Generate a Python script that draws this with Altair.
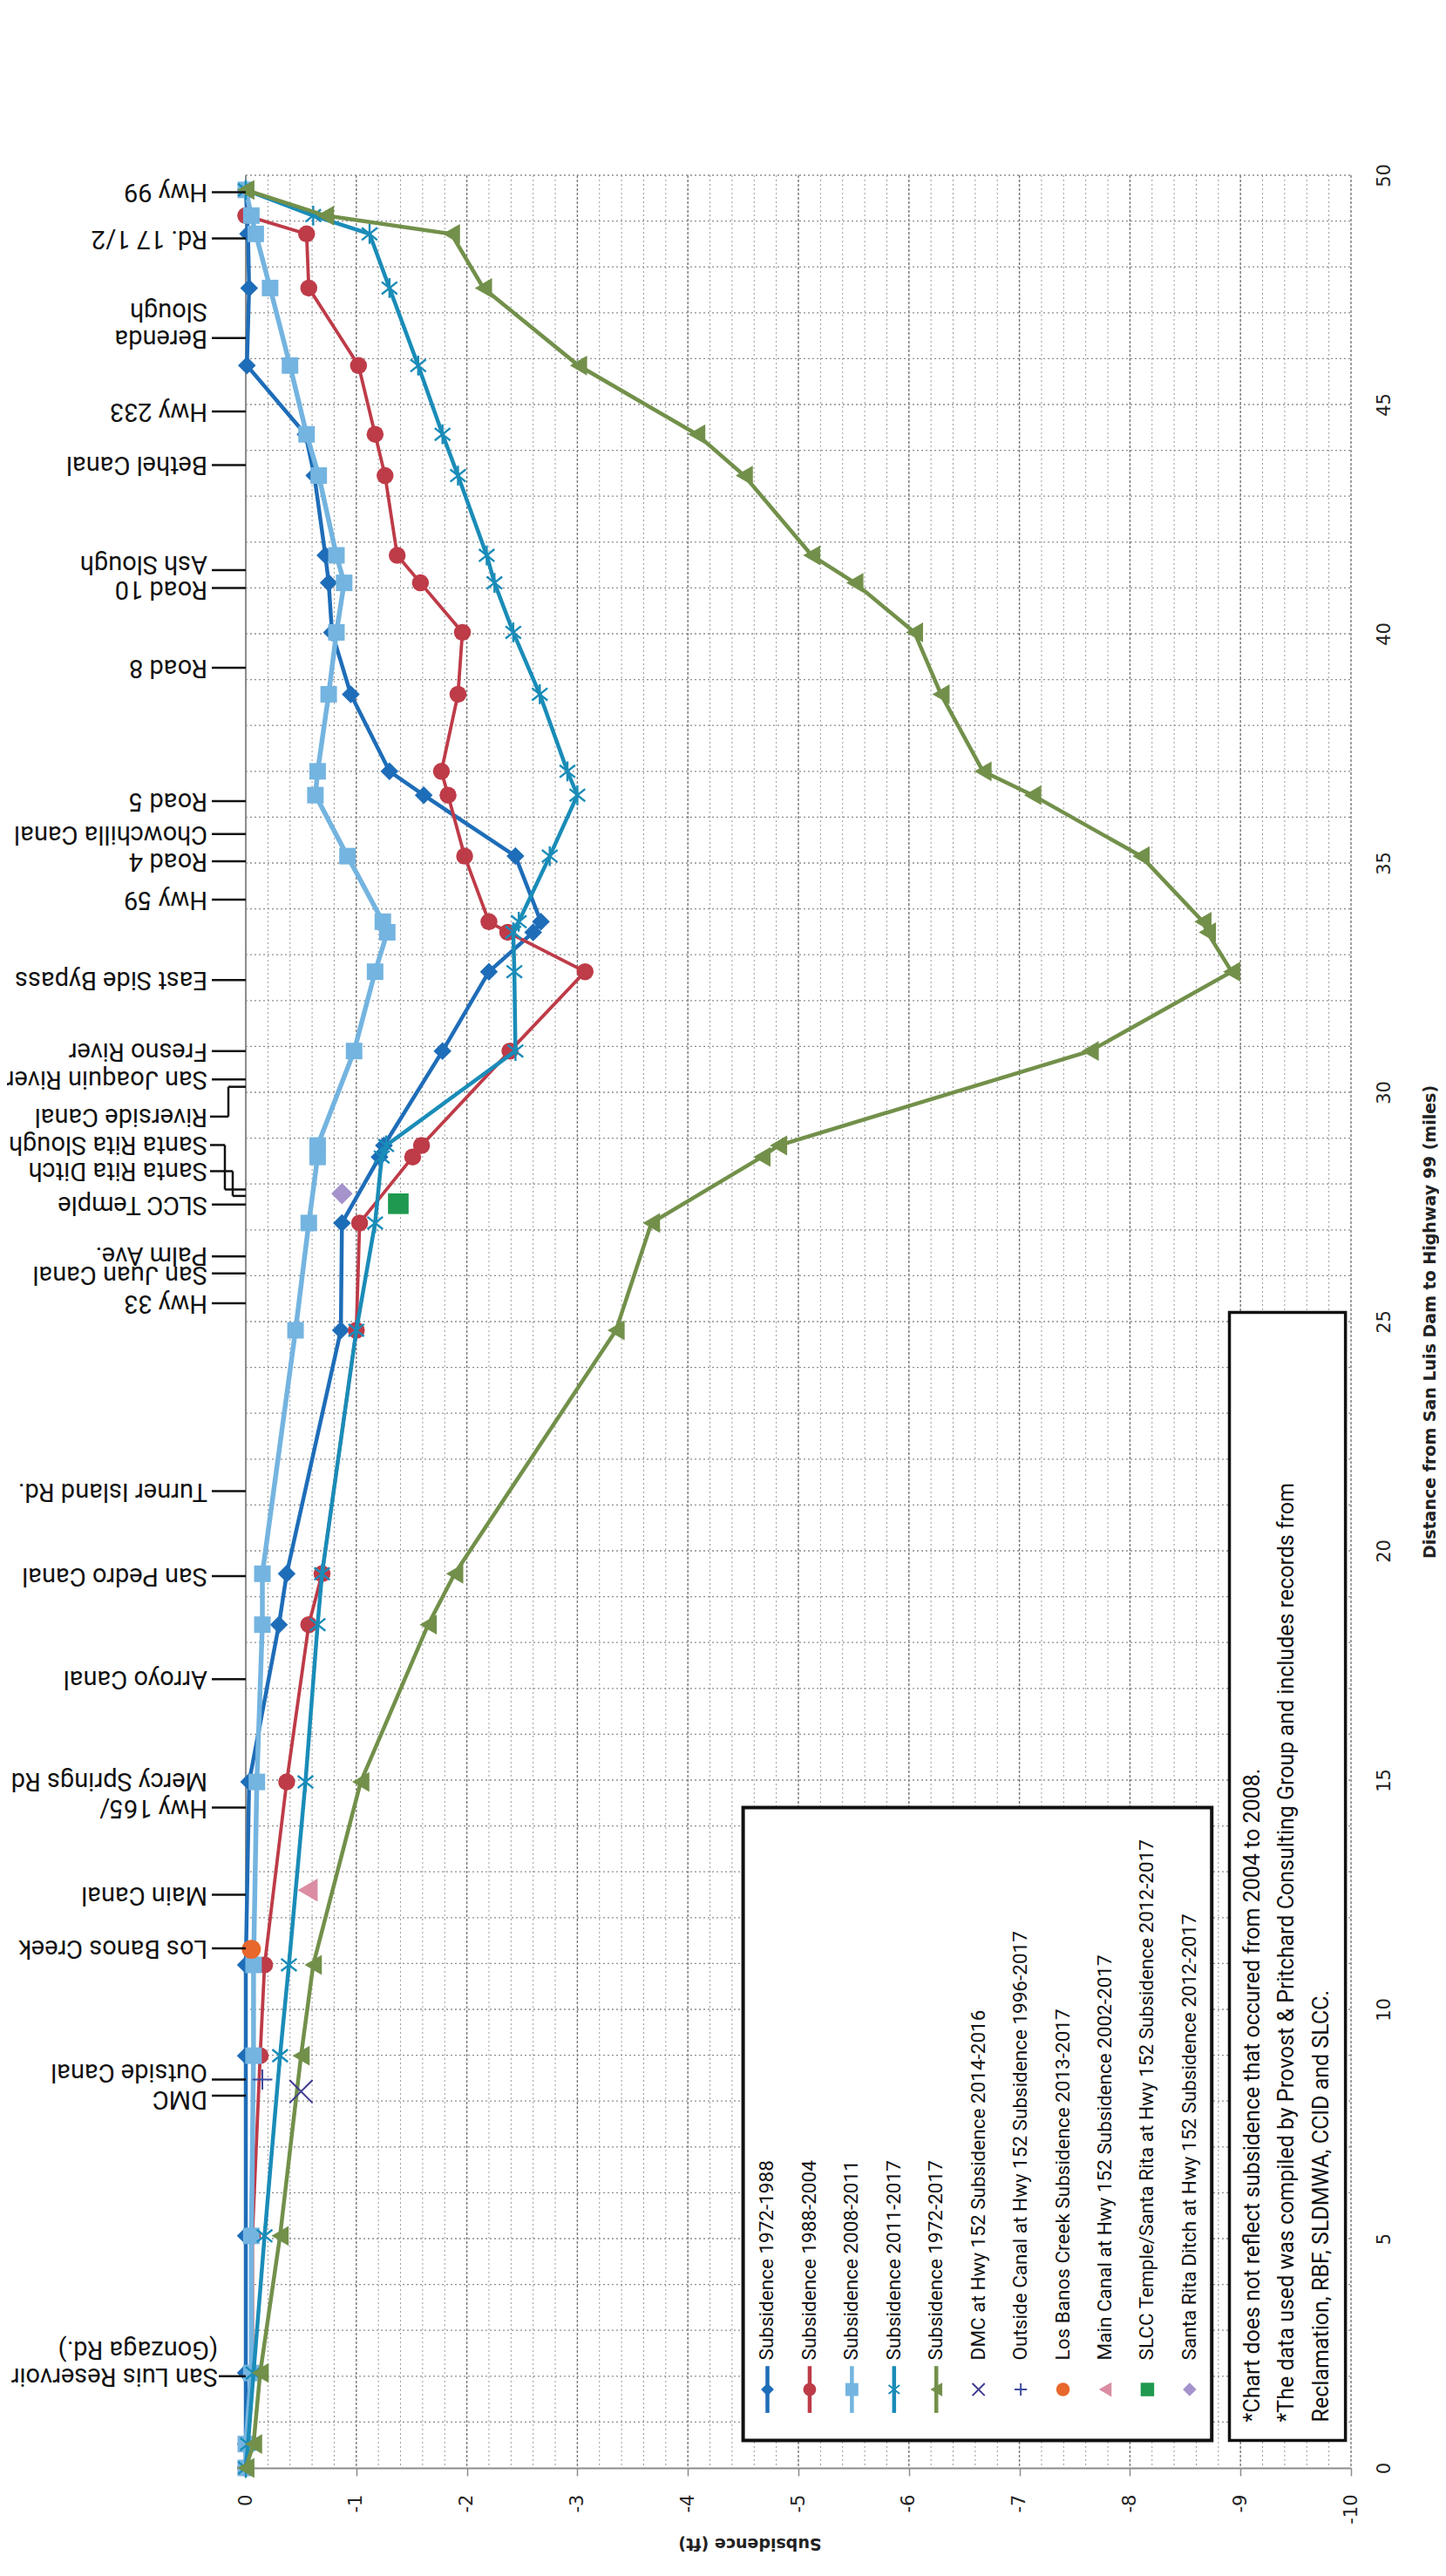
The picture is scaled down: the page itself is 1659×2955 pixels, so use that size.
import altair as alt
import pandas as pd

# ---------------- data ----------------
DIST_ALL = [49.68, 49.12, 48.72, 47.54, 45.85, 44.35, 43.45, 41.71, 41.11, 40.03,
            38.68, 37.0, 36.48, 35.15, 33.72, 33.49, 32.63, 30.9, 28.84, 28.59,
            27.15, 24.81, 19.5, 18.39, 14.96, 10.97, 8.99, 5.06, 2.07, 0.52, 0.0]

DIST_1972_1988 = [49.68, 48.72, 47.54, 45.85, 44.35, 43.45, 41.71, 41.11, 40.03, 38.68,
                  37.0, 36.48, 35.15, 33.72, 33.49, 32.63, 30.9, 28.84, 28.59, 27.15,
                  24.81, 19.5, 18.39, 14.96, 10.97, 8.99, 5.06, 2.07, 0.52, 0.0]
SUBS_1972_1988 = [0.0, -0.02, -0.03, -0.01, -0.54, -0.62, -0.72, -0.75, -0.78, -0.95,
                  -1.30, -1.61, -2.44, -2.67, -2.60, -2.20, -1.78, -1.25, -1.21, -0.87,
                  -0.86, -0.37, -0.30, -0.03, 0.0, 0.0, 0.0, 0.0, 0.0, 0.0]

DIST_1988_2004 = [49.12, 48.72, 47.54, 45.85, 44.35, 43.45, 41.71, 41.11, 40.03, 38.68,
                  37.0, 36.48, 35.15, 33.72, 33.49, 32.63, 30.9, 28.84, 28.59, 27.15,
                  24.81, 19.5, 18.39, 14.96, 10.97, 8.99, 5.06, 2.07, 0.52, 0.0]
SUBS_1988_2004 = [0.0, -0.55, -0.57, -1.02, -1.17, -1.26, -1.37, -1.58, -1.96, -1.92,
                  -1.77, -1.83, -1.98, -2.20, -2.37, -3.07, -2.39, -1.59, -1.51, -1.03,
                  -1.00, -0.69, -0.57, -0.37, -0.17, -0.13, -0.06, -0.06, -0.02, 0.0]

SUBS_2008_2011 = [0.0, -0.05, -0.09, -0.22, -0.40, -0.55, -0.66, -0.82, -0.89, -0.82,
                  -0.75, -0.65, -0.63, -0.92, -1.24, -1.28, -1.17, -0.98, -0.65, -0.65,
                  -0.57, -0.45, -0.15, -0.15, -0.10, -0.07, -0.07, -0.05, -0.05, 0.0, 0.0]

SUBS_2011_2017 = [0.0, -0.61, -1.12, -1.30, -1.56, -1.78, -1.92, -2.18, -2.25, -2.42,
                  -2.66, -2.91, -3.00, -2.75, -2.47, -2.42, -2.43, -2.44, -1.27, -1.23,
                  -1.17, -1.00, -0.69, -0.65, -0.54, -0.39, -0.31, -0.17, -0.07, -0.02, 0.0]

SUBS_1972_2017 = [0.0, -0.72, -1.86, -2.15, -3.01, -4.08, -4.51, -5.12, -5.51, -6.05,
                  -6.29, -6.67, -7.12, -8.10, -8.66, -8.70, -8.92, -7.64, -4.82, -4.67,
                  -3.67, -3.35, -1.89, -1.65, -1.04, -0.61, -0.50, -0.31, -0.13, -0.07, 0.0]

SINGLE_NAMES = ["DMC at Hwy 152 Subsidence 2014-2016",
                "Outside Canal at Hwy 152 Subsidence 1996-2017",
                "Los Banos Creek Subsidence 2013-2017",
                "Main Canal at Hwy 152 Subsidence 2002-2017",
                "SLCC Temple/Santa Rita at Hwy 152 Subsidence 2012-2017",
                "Santa Rita Ditch at Hwy 152 Subsidence 2012-2017"]
SINGLE_DIST = [8.21, 8.47, 11.31, 12.6, 27.57, 27.79]
SINGLE_SUBS = [-0.50, -0.15, -0.05, -0.56, -1.38, -0.87]

STATION_NAMES = ["Hwy 99", "Rd. 17 1/2", "Berenda\nSlough", "Hwy 233", "Bethel Canal",
                 "Ash Slough", "Road 10", "Road 8", "Road 5", "Chowchilla Canal", "Road 4",
                 "Hwy 59", "East Side Bypass", "Fresno River", "San Joaquin River",
                 "Riverside Canal", "Santa Rita Slough", "Santa Rita Ditch", "SLCC Temple",
                 "Palm Ave.", "San Juan Canal", "Hwy 33", "Turner Island Rd.",
                 "San Pedro Canal", "Arroyo Canal", "Hwy 165/\nMercy Springs Rd",
                 "Main Canal", "Los Banos Creek", "Outside Canal", "DMC",
                 "San Luis Reservoir\n(Gonzaga Rd.)"]
STATION_TICK = [49.63, 48.62, 46.45, 44.85, 43.68, 41.39, 41.0, 39.26, 36.35, 35.63, 35.04,
                34.2, 32.45, 30.9, 30.28, 30.12, 27.88, 27.74, 27.55, 26.42, 26.05, 25.4,
                21.3, 19.45, 17.2, 14.4, 12.5, 11.33, 8.47, 8.12, 2.0]
STATION_LABEL = [49.63, 48.62, 46.45, 44.85, 43.68, 41.53, 40.97, 39.26, 36.35, 35.63, 35.04,
                 34.2, 32.45, 30.9, 30.28, 29.47, 28.85, 28.28, 27.55, 26.45, 26.02, 25.4,
                 21.3, 19.45, 17.2, 14.4, 12.5, 11.33, 8.64, 8.04, 2.0]

NOTE_LINES = ["*Chart does not reflect subsidence that occured from 2004 to 2008.",
              "*The data used was compiled by Provost & Pritchard Consulting Group and includes records from",
              "Reclamation, RBF, SLDMWA, CCID and SLCC."]

X_TICKS = list(range(0, -11, -1))
Y_TICKS = list(range(0, 51, 5))

# ---------------- layout / style ----------------
W, H = 1268, 2630
PX = 10.0 / W  # feet per pixel along the subsidence axis
ASTERISK = "M0,-1L0,1M-0.78,-0.62L0.78,0.62M-0.78,0.62L0.78,-0.62"
XSHAPE = "M-1,-1L1,1M-1,1L1,-1"
PLUS = "M0,-1L0,1M-1,0L1,0"

xscale = alt.Scale(domain=[0, -10], nice=False, zero=False)
yscale = alt.Scale(domain=[0, 50], nice=False, zero=False)

XAXIS = alt.Axis(values=X_TICKS, orient="bottom", grid=False, domain=True, domainColor="#8c8c8c",
                 domainWidth=2, ticks=True, tickSize=9, tickColor="#8c8c8c", tickWidth=1.5,
                 labelAngle=270, labelAlign="right", labelBaseline="middle", labelPadding=21,
                 labelFont="DejaVu Sans", labelFontSize=21, labelColor="#222",
                 labelExpr="toString(datum.value)",
                 title="Subsidence (ft)", titleFont="DejaVu Sans", titleFontSize=19,
                 titleFontWeight="bold", titleColor="#222", titleAngle=180, titleX=578, titleY=86,
                 titleAlign="center", titleBaseline="middle")
YAXIS = alt.Axis(values=Y_TICKS, orient="right", grid=False, domain=False, ticks=False,
                 labelAngle=270, labelAlign="center", labelBaseline="middle", labelPadding=38,
                 labelFont="DejaVu Sans", labelFontSize=21, labelColor="#222",
                 title="Distance from San Luis Dam to Highway 99 (miles)", titleFont="DejaVu Sans",
                 titleFontSize=19, titleFontWeight="bold", titleColor="#222", titleAngle=270,
                 titleX=90, titleY=H / 2, titleAlign="center", titleBaseline="middle")


def xq(field):
    return alt.X(field, type="quantitative", scale=xscale, axis=XAXIS)


def yq(field):
    return alt.Y(field, type="quantitative", scale=yscale, axis=YAXIS)


SERIES = [
    ("Subsidence 1972-1988", DIST_1972_1988, SUBS_1972_1988, "#1E6DB8", "diamond", 420, True, 4.5),
    ("Subsidence 1988-2004", DIST_1988_2004, SUBS_1988_2004, "#BE3B48", "circle", 380, True, 3.8),
    ("Subsidence 2008-2011", DIST_ALL, SUBS_2008_2011, "#74B4E0", "square", 360, True, 5.5),
    ("Subsidence 2011-2017", DIST_ALL, SUBS_2011_2017, "#1A8CB8", ASTERISK, 520, False, 4.5),
    ("Subsidence 1972-2017", DIST_ALL, SUBS_1972_2017, "#72904A", "triangle-left", 520, True, 4.5),
]
SINGLE_STYLE = [("#3F3A8F", XSHAPE, 700, False),
                ("#3C4B9C", PLUS, 520, False),
                ("#E8672C", "circle", 480, True),
                ("#DA8DA3", "triangle-left", 700, True),
                ("#1F9950", "square", 560, True),
                ("#A593CC", "diamond", 600, True)]

layers = []

# scanned page edge line
layers.append(alt.Chart(pd.DataFrame({"a": [0]})).mark_rule(color="#b4b4b4", strokeWidth=1.5).encode(
    x=alt.value(-277), y=alt.value(-193), y2=alt.value(H + 116)))

# gridlines (carry the axes)
minor = pd.DataFrame({"g": [round(-0.2 * k, 1) for k in range(1, 51) if k % 5 != 0]})
major = pd.DataFrame({"g": [float(v) for v in X_TICKS]})
layers.append(alt.Chart(minor).mark_rule(color="#9a9a9a", strokeWidth=1, strokeDash=[2, 3]).encode(
    x=xq("g"), y=alt.value(0), y2=alt.value(H)))
layers.append(alt.Chart(major).mark_rule(color="#777777", strokeWidth=1.4, strokeDash=[3, 2]).encode(
    x=xq("g"), y=alt.value(0), y2=alt.value(H)))
hgrid = pd.DataFrame({"m": list(range(1, 51))})
layers.append(alt.Chart(hgrid).mark_rule(color="#8e8e8e", strokeWidth=1.3, strokeDash=[2, 3]).encode(
    y=yq("m"), x=alt.value(0), x2=alt.value(W)))
layers.append(alt.Chart(pd.DataFrame({"a": [0]})).mark_rule(color="#8c8c8c", strokeWidth=2).encode(
    x=alt.value(0), y=alt.value(0), y2=alt.value(H)))

# series
for name, dist, subs, color, shape, size, filled, lw in SERIES:
    df = pd.DataFrame({"dist": dist, "subs": subs})
    base = alt.Chart(df).encode(x=xq("subs"), y=yq("dist"), order=alt.Order("dist:Q"))
    layers.append(base.mark_line(color=color, strokeWidth=lw))
    if filled:
        layers.append(base.mark_point(shape=shape, size=size, color=color, filled=True, opacity=1))
    else:
        layers.append(base.mark_point(shape=shape, size=size, color=color, filled=False,
                                      strokeWidth=2.4, opacity=1))

# single survey points
for nm, d, s, (color, shape, size, filled) in zip(SINGLE_NAMES, SINGLE_DIST, SINGLE_SUBS, SINGLE_STYLE):
    df = pd.DataFrame({"dist": [d], "subs": [s]})
    if filled:
        mk = alt.Chart(df).mark_point(shape=shape, size=size, color=color, filled=True, opacity=1)
    else:
        mk = alt.Chart(df).mark_point(shape=shape, size=size, color=color, filled=False,
                                      strokeWidth=2, opacity=1)
    layers.append(mk.encode(x=xq("subs"), y=yq("dist")))

# legend and note boxes
box = pd.DataFrame({"x1": [-4.5, -8.9], "x2": [-8.74, -9.95], "y1": [0.6, 0.6], "y2": [14.4, 25.2],
                    "sw": [4, 3.5]})
layers.append(alt.Chart(box).mark_rect(fill="white", stroke="#111").encode(
    x=xq("x1"), x2="x2:Q", y=yq("y1"), y2="y2:Q",
    strokeWidth=alt.StrokeWidth("sw:Q", scale=None)))

LEG_X0, LEG_STEP = -4.72, -0.382
leg_rows = []
leg_sizes_line = [220, 220, 220, 260, 250]
leg_sizes_pt = [200, 200, 240, 280, 240, 240]
for i, (name, _, _, color, shape, _, filled, lw) in enumerate(SERIES):
    leg_rows.append(dict(name=name, color=color, shape=shape, size=leg_sizes_line[i],
                         filled=filled, line=True, col=LEG_X0 + LEG_STEP * i))
for j, (nm, (color, shape, _, filled)) in enumerate(zip(SINGLE_NAMES, SINGLE_STYLE)):
    leg_rows.append(dict(name=nm, color=color, shape=shape, size=leg_sizes_pt[j],
                         filled=filled, line=False, col=LEG_X0 + LEG_STEP * (5 + j)))
leg = pd.DataFrame(leg_rows)
leg["ys"] = 1.71
leg["yl1"] = 1.2
leg["yl2"] = 2.22
leg["yt"] = 2.35

layers.append(alt.Chart(leg[leg["line"]]).mark_rule(strokeWidth=4.5).encode(
    x=xq("col"), y=yq("yl1"), y2="yl2:Q", color=alt.Color("color:N", scale=None)))
layers.append(alt.Chart(leg[leg["filled"]]).mark_point(filled=True, opacity=1).encode(
    x=xq("col"), y=yq("ys"),
    color=alt.Color("color:N", scale=None), shape=alt.Shape("shape:N", scale=None),
    size=alt.Size("size:Q", scale=None)))
layers.append(alt.Chart(leg[~leg["filled"]]).mark_point(filled=False, opacity=1, strokeWidth=2).encode(
    x=xq("col"), y=yq("ys"),
    color=alt.Color("color:N", scale=None), shape=alt.Shape("shape:N", scale=None),
    size=alt.Size("size:Q", scale=None)))
layers.append(alt.Chart(leg).mark_text(angle=270, align="left", baseline="middle", font="Roboto",
                                       fontSize=22.5, color="#111").encode(
    x=xq("col"), y=yq("yt"), text="name:N"))

note = pd.DataFrame({"t": NOTE_LINES, "x": [-9.11, -9.42, -9.73], "y": [1.0, 1.0, 1.0]})
layers.append(alt.Chart(note).mark_text(angle=270, align="left", baseline="middle", font="Roboto",
                                        fontSize=25, color="#111").encode(
    x=xq("x"), y=yq("y"), text="t:N"))

# station ticks / bracket connectors
BRACKET_PX = {"Riverside Canal": 20, "Santa Rita Slough": 24, "Santa Rita Ditch": 15}
GAP_PX = {"San Luis Reservoir\n(Gonzaga Rd.)": 32}
segs = []
for nm, tk, lb in zip(STATION_NAMES, STATION_TICK, STATION_LABEL):
    if nm in BRACKET_PX:
        k = BRACKET_PX[nm]
        segs.append(dict(x1=41 * PX, x2=k * PX, y1=lb, y2=lb))
        segs.append(dict(x1=k * PX, x2=k * PX, y1=lb, y2=tk))
        segs.append(dict(x1=k * PX, x2=0.0, y1=tk, y2=tk))
    else:
        segs.append(dict(x1=(GAP_PX.get(nm, 40) - 1) * PX, x2=0.0, y1=tk, y2=tk))
segdf = pd.DataFrame(segs)
layers.append(alt.Chart(segdf).mark_rule(color="#111", strokeWidth=2.5).encode(
    x=xq("x1"), x2="x2:Q", y=yq("y1"), y2="y2:Q"))

st = pd.DataFrame({"name": STATION_NAMES, "label": STATION_LABEL,
                   "tx": [GAP_PX.get(n, 44) * PX for n in STATION_NAMES]})
layers.append(alt.Chart(st).mark_text(angle=180, align="left", baseline="middle", font="Roboto",
                                      fontSize=29, color="#111", lineBreak="\n").encode(
    x=xq("tx"), y=yq("label"), text="name:N"))

chart = alt.layer(*layers).properties(
    width=W, height=H,
    padding={"left": 274, "top": 193, "right": 101, "bottom": 116},
    autosize=alt.AutoSizeParams(type="none"),
    background="white",
).configure_view(strokeWidth=0)

chart.save("out.html", embed_options={"renderer": "svg", "actions": False})
